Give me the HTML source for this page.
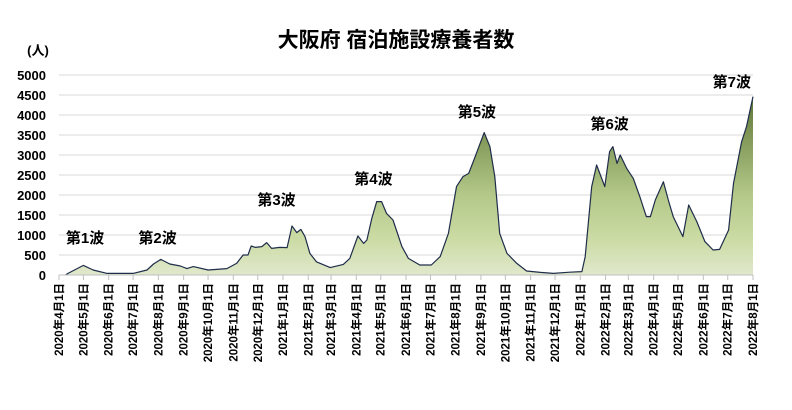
<!DOCTYPE html>
<html><head><meta charset="utf-8"><style>
body{margin:0;background:#fff;}
svg text{font-family:"Liberation Sans","Noto Sans CJK JP",sans-serif;font-weight:bold;fill:#000;}
</style></head><body>
<svg id="chart" width="792" height="405" viewBox="0 0 792 405" xmlns="http://www.w3.org/2000/svg">
<defs><linearGradient id="g" gradientUnits="userSpaceOnUse" x1="0" y1="95" x2="0" y2="275">
<stop offset="0" stop-color="#5c7434"/><stop offset="0.55" stop-color="#b3c888"/><stop offset="0.8" stop-color="#cbdba4"/><stop offset="1" stop-color="#e0e8cc"/></linearGradient></defs>
<text x="396" y="47" text-anchor="middle" font-size="21">大阪府 宿泊施設療養者数</text>
<text x="38" y="55" text-anchor="middle" font-size="13">(人)</text>
<g id="grid"></g><g id="area"></g><g id="axes"></g><g id="labels"></g>
</svg>
<script>
const days=[8,11,30,42,59,91,108,116,125,136,149,157,165,183,206,218,226,232,236,241,249,255,261,271,280,286,292,297,302,308,316,333,349,357,367,374,378,384,390,396,402,410,421,429,443,457,468,478,488,496,503,511,517,522,529,535,541,550,562,574,591,607,627,642,646,654,660,670,676,680,685,689,697,705,713,721,726,732,742,748,754,766,773,783,793,803,811,822,828,838,844,852];
const values=[0,40,240,125,40,40,125,275,390,275,225,160,210,125,160,290,500,500,725,690,710,810,665,690,685,1225,1060,1140,960,540,330,185,265,415,975,790,875,1415,1835,1835,1540,1375,710,415,250,250,460,1040,2210,2460,2540,2960,3290,3560,3210,2460,1040,540,290,100,65,40,70,85,460,2210,2750,2210,3085,3210,2790,3000,2665,2415,1960,1460,1460,1875,2330,1875,1460,960,1750,1335,835,625,640,1125,2290,3330,3710,4460];
const yTicks=[0,500,1000,1500,2000,2500,3000,3500,4000,4500,5000];
const monthLabels=["2020年4月1日","2020年5月1日","2020年6月1日","2020年7月1日","2020年8月1日","2020年9月1日","2020年10月1日","2020年11月1日","2020年12月1日","2021年1月1日","2021年2月1日","2021年3月1日","2021年4月1日","2021年5月1日","2021年6月1日","2021年7月1日","2021年8月1日","2021年9月1日","2021年10月1日","2021年11月1日","2021年12月1日","2022年1月1日","2022年2月1日","2022年3月1日","2022年4月1日","2022年5月1日","2022年6月1日","2022年7月1日","2022年8月1日"];
const monthDays=[0,30,61,91,122,153,183,214,244,275,306,334,365,395,426,456,487,518,548,579,609,640,671,699,730,760,791,821,852];
const waveNames=["第1波","第2波","第3波","第4波","第5波","第6波","第7波"];
const waveDays=[32,121,267,386,513,676,826];
const waveVals=[800,800,1750,2270,3950,3650,4700];
const X0=59,X1=753,Y0=275,Y1=75,D=852,VMAX=5000;
const xs=d=>X0+(X1-X0)*d/D, ys=v=>Y0-(Y0-Y1)*v/VMAX;
const NS="http://www.w3.org/2000/svg";
function mk(tag,attrs,parent){const e=document.createElementNS(NS,tag);for(const k in attrs)e.setAttribute(k,attrs[k]);document.getElementById(parent).appendChild(e);return e;}
yTicks.forEach(v=>{
 if(v>0){const l=mk('line',{x1:X0,x2:X1,y1:ys(v),y2:ys(v),stroke:'#d9d9d9','stroke-width':1},'grid');
 
 }
 const t=mk('text',{x:46,y:ys(v)+5,'text-anchor':'end','font-size':13},'axes');t.textContent=v;
 
 
});
let pts=days.map((d,i)=>xs(d).toFixed(1)+','+ys(values[i]).toFixed(1));
const area=mk('polygon',{points:xs(days[0])+','+Y0+' '+pts.join(' ')+' '+xs(days[days.length-1])+','+Y0,fill:'url(#g)'},'area');


const line=mk('polyline',{points:pts.join(' '),fill:'none',stroke:'#1f2d4a','stroke-width':1.2,'stroke-linejoin':'round'},'area');


const ax=mk('line',{x1:X0,x2:X1,y1:Y0,y2:Y0,stroke:'#bfbfbf','stroke-width':1},'axes');


monthDays.forEach((d,i)=>{
 const x=xs(d);
 const tk=mk('line',{x1:x,x2:x,y1:Y0,y2:Y0+5,stroke:'#bfbfbf'},'axes');
 
 
 const t=mk('text',{x:0,y:0,'text-anchor':'end','font-size':11.5,transform:`translate(${x+4},283) rotate(-90)`},'axes');
 t.textContent=monthLabels[i];
 
 
});
waveNames.forEach((n,i)=>{
 const t=mk('text',{x:xs(waveDays[i]),y:ys(waveVals[i]),'text-anchor':'middle','font-size':15},'labels');
 t.textContent=n;
 
 
});
</script>
</body></html>
